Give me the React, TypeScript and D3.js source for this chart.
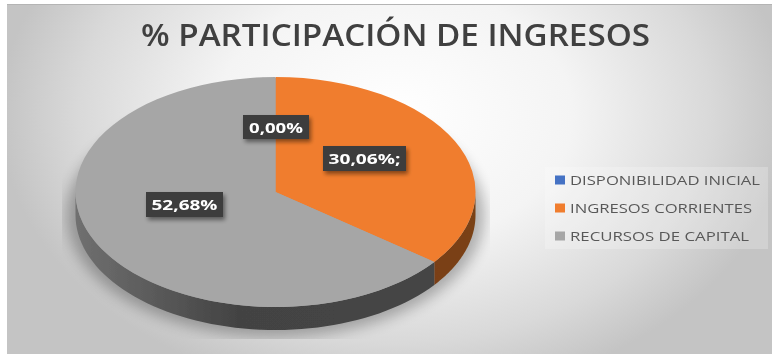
import React from "react";
import * as d3 from "d3";

const titleText = "% PARTICIPACIÓN DE INGRESOS";
const categories = ["DISPONIBILIDAD INICIAL", "INGRESOS CORRIENTES", "RECURSOS DE CAPITAL"];
// Slice shares as drawn in the picture (the printed labels do not sum to 100)
const sliceShares = [0, 35.4, 64.6];
const valueLabels = ["0,00%", "30,06%;", "52,68%"];
const colors = ["#4472c4", "#f07d2e", "#a6a6a6"];

const W = 772, H = 354;
const cx = 275.5, cy = 192, rx = 200, ry = 115, depth = 23;

const pie = d3.pie<number>().value((d) => d).sort(null);
const arcs = pie(sliceShares);
const arcGen = d3.arc<d3.PieArcDatum<number>>().innerRadius(0).outerRadius(rx);

const px = (a: number) => cx + rx * Math.sin(a);
const py = (a: number) => cy - ry * Math.cos(a);

function wallPath(a0: number, a1: number) {
  const s = Math.max(a0, Math.PI / 2), e = Math.min(a1, 1.5 * Math.PI);
  if (e <= s) return null;
  const scale = d3.scaleLinear().domain([0, 60]).range([s, e]);
  const angles = d3.range(61).map((i) => scale(i));
  const line = d3.line<[number, number]>();
  const top = angles.map((a) => [px(a), py(a)] as [number, number]);
  const bot = angles.slice().reverse().map((a) => [px(a), py(a) + depth] as [number, number]);
  return line([...top, ...bot]) + "Z";
}

const labelBoxes = [
  { x: 243, y: 115, w: 66, h: 24, tw: 54 },
  { x: 323, y: 146, w: 83, h: 25, tw: 72 },
  { x: 146, y: 192, w: 77, h: 25, tw: 66 },
];
const legendWidths = [190, 182, 179];
const legendY = d3.scalePoint<string>().domain(categories).range([180, 236]);

export default function App() {
  return (
    <svg width={W} height={H} style={{ position: "absolute", left: 0, top: 0, background: "#fff" }}>
      <defs>
        <radialGradient id="bg" gradientUnits="userSpaceOnUse" cx={395} cy={115} r={395} gradientTransform="translate(395 115) scale(1 0.72) translate(-395 -115)">
          <stop offset="0" stopColor="#ffffff" />
          <stop offset="0.45" stopColor="#f4f4f4" />
          <stop offset="0.8" stopColor="#d9d9d9" />
          <stop offset="1" stopColor="#c4c4c4" />
        </radialGradient>
        <linearGradient id="wallGrey" gradientUnits="userSpaceOnUse" x1={75} x2={437} y1={0} y2={0}>
          <stop offset="0" stopColor="#707070" />
          <stop offset="0.45" stopColor="#434343" />
          <stop offset="1" stopColor="#454545" />
        </linearGradient>
        <linearGradient id="wallOrange" gradientUnits="userSpaceOnUse" x1={430} x2={476} y1={0} y2={0}>
          <stop offset="0" stopColor="#7a3e12" />
          <stop offset="1" stopColor="#7a4215" />
        </linearGradient>
        <filter id="shadow" x="-20%" y="-20%" width="140%" height="140%">
          <feGaussianBlur stdDeviation="7" />
        </filter>
        <filter id="boxShadow" x="-30%" y="-30%" width="160%" height="160%">
          <feGaussianBlur stdDeviation="2" />
        </filter>
        <filter id="soft" x="0" y="0" width="100%" height="100%">
          <feGaussianBlur stdDeviation="0.5" />
        </filter>
        <clipPath id="shadowClip">
          <rect x={62} y={100} width={428} height={239} />
        </clipPath>
      </defs>
      <g filter="url(#soft)">
        <rect x={7} y={4} width={W - 7} height={H - 4} fill="url(#bg)" />
        <rect x={7} y={4} width={W - 7} height={1} fill="#b4b4b4" />
        <text x={395.5} y={46} textAnchor="middle" fontFamily="'Open Sans'" fontWeight={600} fontSize={31.5} textLength={509} lengthAdjust="spacingAndGlyphs" fill="#404040">
          {titleText}
        </text>

        <g clipPath="url(#shadowClip)">
          <ellipse cx={cx} cy={cy + depth} rx={rx + 9} ry={ry + 7} fill="#000" opacity={0.28} filter="url(#shadow)" />
        </g>

        {arcs.map((d, i) => {
          const p = wallPath(d.startAngle, d.endAngle);
          return p ? <path key={categories[i]} d={p} fill={i === 1 ? "url(#wallOrange)" : "url(#wallGrey)"} /> : null;
        })}
        <ellipse cx={cx} cy={cy} rx={rx - 1} ry={ry - 1} fill={colors[2]} />
        <g transform={`translate(${cx},${cy}) scale(1,${ry / rx})`}>
          {arcs.map((d, i) => (
            <path key={categories[i]} d={arcGen(d) ?? ""} fill={colors[i]} />
          ))}
        </g>

        {valueLabels.map((t, i) => {
          const b = labelBoxes[i];
          return (
            <g key={t}>
              <rect x={b.x + 2} y={b.y + 3} width={b.w} height={b.h} fill="#000" opacity={0.45} filter="url(#boxShadow)" />
              <rect x={b.x} y={b.y} width={b.w} height={b.h} fill="#3c3c3c" />
              <text x={b.x + b.w / 2} y={b.y + b.h / 2 + 5.5} textAnchor="middle" fontFamily="'Open Sans'" fontWeight={700} fontSize={15} textLength={b.tw} lengthAdjust="spacingAndGlyphs" fill="#fff">
                {t}
              </text>
            </g>
          );
        })}

        <rect x={545} y={167} width={223} height={82} fill="#fff" opacity={0.22} />
        {categories.map((c, i) => (
          <g key={c}>
            <rect x={555} y={(legendY(c) as number) - 4.5} width={10} height={9} fill={colors[i]} />
            <text x={570} y={(legendY(c) as number) + 5} fontFamily="'Open Sans'" fontSize={13.5} textLength={legendWidths[i]} lengthAdjust="spacingAndGlyphs" fill="#595959">
              {c}
            </text>
          </g>
        ))}
      </g>
    </svg>
  );
}
